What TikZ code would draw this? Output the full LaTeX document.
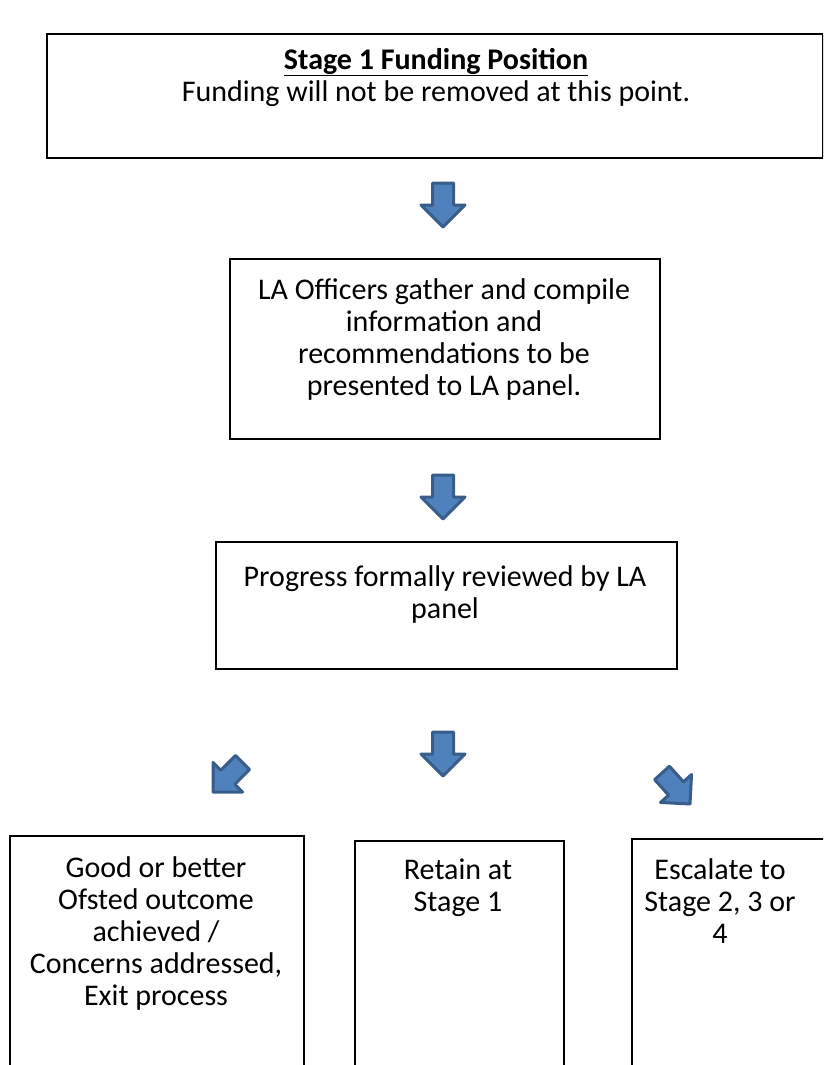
\documentclass[tikz,border=0pt]{standalone}
\usepackage{fontspec}
\setmainfont{Carlito}
\definecolor{arrfill}{RGB}{79,129,189}
\definecolor{arrline}{RGB}{56,93,138}
\begin{document}
\begin{tikzpicture}[x=1pt,y=-1pt,
  box/.style={draw=black,line width=1.6pt,inner sep=0pt,anchor=north west},
  txt/.style={inner sep=0pt,align=center,anchor=base,font=\fontsize{30}{32}\selectfont},
  blockarrow/.style={fill=arrfill,draw=arrline,line width=3pt,line join=round}]
\useasboundingbox (0,0) rectangle (823,1065);
\clip (0,0) rectangle (823,1065);
% boxes
\node[box,minimum width=776pt,minimum height=124pt] (b1) at (46,33) {};
\node[box,minimum width=430pt,minimum height=180pt] (b2) at (229,258) {};
\node[box,minimum width=461pt,minimum height=127pt] (b3) at (215,541) {};
\node[box,minimum width=294pt,minimum height=260pt] (bl) at (9,835) {};
\node[box,minimum width=209pt,minimum height=260pt] (bm) at (354,840) {};
\node[box,minimum width=220pt,minimum height=260pt] (br) at (631,838) {};
% texts (base anchor = baseline of last line)
\node[txt] (t1) at (436,101) {\textbf{\underline{Stage 1 Funding Position}}\\Funding will not be removed at this point.};
\node[txt] (t2) at (444,395) {LA Officers gather and compile\\information and\\recommendations to be\\presented to LA panel.};
\node[txt] (t3) at (445,618) {Progress formally reviewed by LA\\panel};
\node[txt] (tl) at (156,1005) {Good or better\\Ofsted outcome\\achieved /\\Concerns addressed,\\Exit process};
\node[txt] (tm) at (458,911) {Retain at\\Stage 1};
\node[txt] (tr) at (720,943) {Escalate to\\Stage 2, 3 or\\4};
% block arrows (tip at origin, pointing down)
\def\arrshape{(0,0) -- (-22,-22) -- (-10.5,-22) -- (-10.5,-44) -- (10.5,-44) -- (10.5,-22) -- (22,-22) -- cycle}
\draw[blockarrow,shift={(443,227)}] \arrshape;
\draw[blockarrow,shift={(443,519)}] \arrshape;
\draw[blockarrow,shift={(443,776)}] \arrshape;
\draw[blockarrow,shift={(213,792)},rotate=-45,scale=0.95] \arrshape;
\draw[blockarrow,shift={(690,804)},rotate=42,scale=0.95] \arrshape;
\end{tikzpicture}
\end{document}
